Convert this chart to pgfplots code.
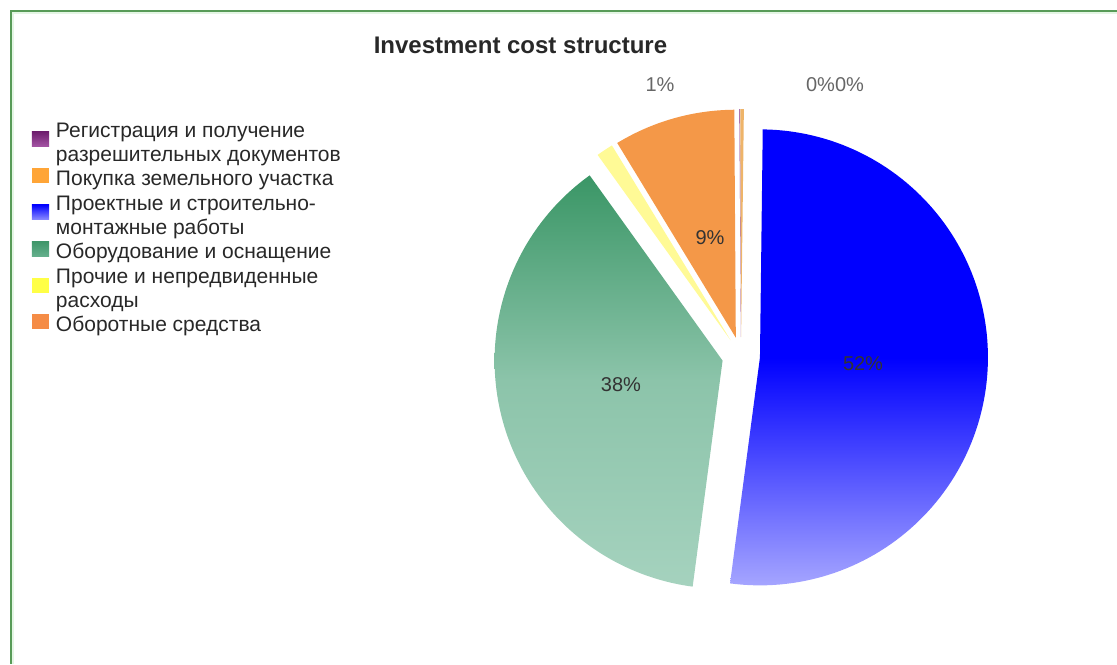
\documentclass[border=0pt]{standalone}
\usepackage{fontspec}
\setmainfont{Liberation Sans}
\usepackage{pgfplots}
\usepackage{pgfplotstable}
\pgfplotsset{compat=1.18}

\definecolor{framegreen}{RGB}{88,155,88}
\definecolor{framepale}{RGB}{228,246,228}
\definecolor{pieblue}{RGB}{0,0,255}
\definecolor{pieblueL}{RGB}{165,165,255}
\definecolor{piegreen}{RGB}{58,150,102}
\definecolor{piegreenM}{RGB}{140,196,170}
\definecolor{piegreenL}{RGB}{165,210,190}
\definecolor{pieorange}{RGB}{244,152,72}
\definecolor{pieyellow}{RGB}{255,250,150}
\definecolor{pieland}{RGB}{238,180,105}
\definecolor{piepurple}{RGB}{130,40,130}
\definecolor{txt}{RGB}{40,40,40}
% legend swatches
\definecolor{lgpurpleT}{RGB}{110,30,110}
\definecolor{lgpurpleB}{RGB}{165,85,165}
\definecolor{lgland}{RGB}{255,165,55}
\definecolor{lgblueB}{RGB}{140,140,255}
\definecolor{lggreenT}{RGB}{62,150,105}
\definecolor{lggreenB}{RGB}{100,175,140}
\definecolor{lgyellow}{RGB}{255,255,70}
\definecolor{lgorange}{RGB}{245,140,70}

% share in percent, clockwise from 12 o'clock
\pgfplotstableread{
share style
51.9  sblue
38.0  sgreen
1.2   syellow
8.6   sorange
0.05  spurple
0.25  sland
}\piedata

\pgfplotsset{
  sblue/.style={top color=pieblue, bottom color=pieblueL, middle color=pieblue},
  sgreen/.style={top color=piegreen, bottom color=piegreenL, middle color=piegreenM},
  syellow/.style={fill=pieyellow},
  sorange/.style={fill=pieorange},
  sland/.style={fill=pieland},
  spurple/.style={fill=piepurple},
}

\begin{document}
\begin{tikzpicture}
\begin{axis}[
    width=558.5pt, height=332pt, scale only axis,
    xmin=0, xmax=1117, ymin=0, ymax=664, y dir=reverse,
    axis lines=none,
    legend style={
        at={(axis cs:32,116)}, anchor=north west,
        draw=none, fill=none, inner sep=0pt, outer sep=0pt,
        row sep=-1.9pt, column sep=1.5pt,
        font=\fontsize{10.5}{12.2}\selectfont,
        cells={anchor=west, align=left, inner sep=0pt, text=txt},
    },
    legend image code/.code={\fill[#1, draw=none] (0pt,-2.25pt) rectangle (8.5pt,5.25pt);},
]
% frame
\draw[framepale, line width=1pt] (axis cs:12,13) -- (axis cs:1117,13);
\draw[framepale, line width=1pt] (axis cs:13,12) -- (axis cs:13,664);
\draw[framegreen, line width=1pt] (axis cs:10,10.5) -- (axis cs:1117,10.5);
\draw[framegreen, line width=1pt] (axis cs:10.5,10) -- (axis cs:10.5,664);

% slices
\pgfplotstablegetrowsof{\piedata}
\pgfmathtruncatemacro\lastrow{\pgfplotsretval-1}
\def\sa{89.3}
\pgfplotsforeachungrouped \i in {0,...,\lastrow}{%
  \pgfplotstablegetelem{\i}{share}\of\piedata \let\share\pgfplotsretval
  \pgfplotstablegetelem{\i}{style}\of\piedata \let\sty\pgfplotsretval
  \pgfmathsetmacro\ea{\sa-3.6*\share}
  \pgfmathsetmacro\ma{(\sa+\ea)/2}
  \pgfmathsetmacro\cx{741+19*cos(\ma)}
  \pgfmathsetmacro\cy{356-19*sin(\ma)}
  \edef\doslice{\noexpand\addplot[\sty, draw=none, mark=none, forget plot,
      domain=\ea:\sa, samples=120]
      ({\cx+228*cos(\noexpand\x)},{\cy-228*sin(\noexpand\x)})
      -- (axis cs:\cx,\cy) -- cycle;}
  \doslice
  \let\sa\ea
}

% legend
\addlegendimage{top color=lgpurpleT, bottom color=lgpurpleB}
\addlegendentry{\strut Регистрация и получение\\\strut разрешительных документов}
\addlegendimage{fill=lgland}
\addlegendentry{\strut Покупка земельного участка}
\addlegendimage{top color=pieblue, bottom color=lgblueB}
\addlegendentry{\strut Проектные и строительно-\\\strut монтажные работы}
\addlegendimage{top color=lggreenT, bottom color=lggreenB}
\addlegendentry{\strut Оборудование и оснащение}
\addlegendimage{fill=lgyellow}
\addlegendentry{\strut Прочие и непредвиденные\\\strut расходы}
\addlegendimage{fill=lgorange}
\addlegendentry{\strut Оборотные средства}

% labels
\node[font=\bfseries\fontsize{12}{14}\selectfont, text=txt, anchor=base]
  at (axis cs:520.5,53) {Investment cost structure};
\node[font=\fontsize{10}{12}\selectfont, text=black!80] at (axis cs:863,364) {52\%};
\node[font=\fontsize{10}{12}\selectfont, text=black!80] at (axis cs:621,385) {38\%};
\node[font=\fontsize{10}{12}\selectfont, text=black!80] at (axis cs:710,238) {9\%};
\node[font=\fontsize{10}{12}\selectfont, text=black!60] at (axis cs:660,85) {1\%};
\node[font=\fontsize{10}{12}\selectfont, text=black!60] at (axis cs:835,85) {0\%0\%};

\coordinate (bl) at (axis cs:0,664);
\coordinate (tr) at (axis cs:1117,0);
\end{axis}
\pgfresetboundingbox
\path[use as bounding box] (bl) rectangle (tr);
\end{tikzpicture}
\end{document}
